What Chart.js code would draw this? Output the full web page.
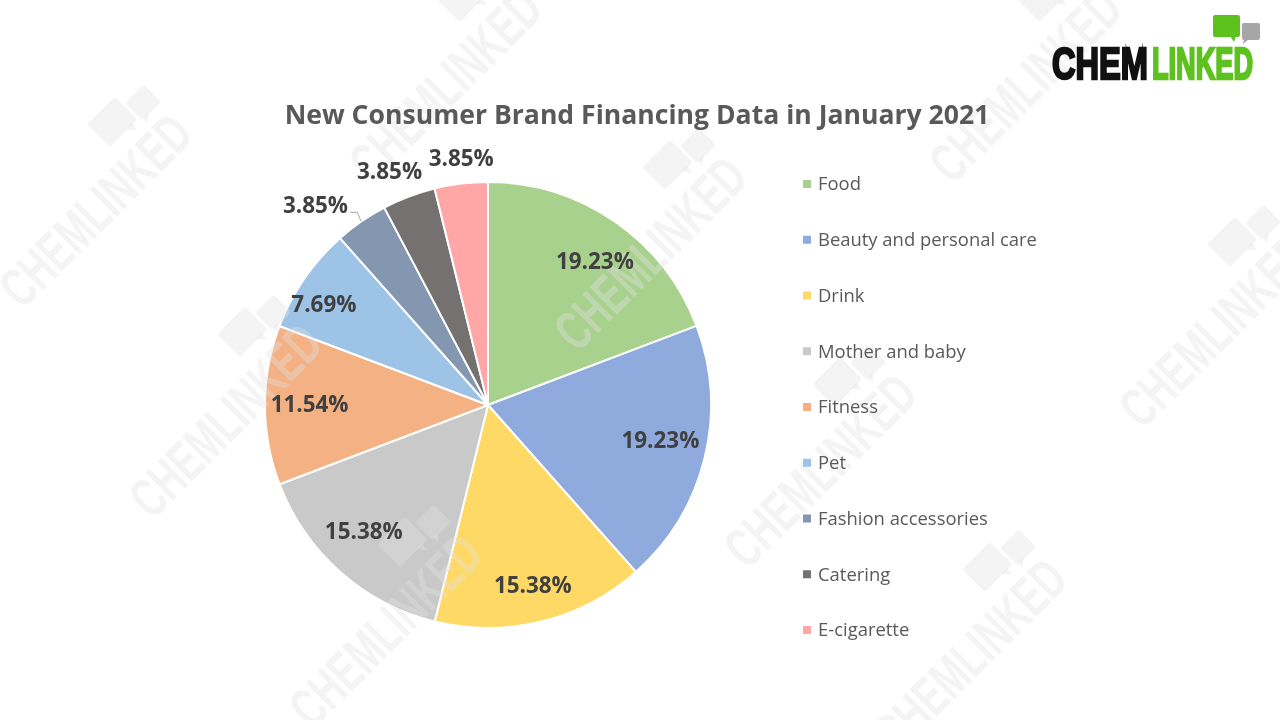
<!DOCTYPE html>
<html><head><meta charset="utf-8">
<script src="https://cdn.jsdelivr.net/npm/chart.js@4/dist/chart.umd.min.js"></script>
<style>html,body{margin:0;padding:0;background:#fff;overflow:hidden}canvas{display:block}</style>
</head><body>
<canvas id="c" width="1280" height="720"></canvas>
<script>
// ---- data ----
const titleText = 'New Consumer Brand Financing Data in January 2021';
const categories = ['Food','Beauty and personal care','Drink','Mother and baby','Fitness','Pet','Fashion accessories','Catering','E-cigarette'];
const shares = [19.23, 19.23, 15.38, 15.38, 11.54, 7.69, 3.85, 3.85, 3.85];
const sliceColors = ['#A9D18E','#8FAADC','#FFD966','#C9C9C9','#F4B183','#9DC3E6','#8497B0','#767171','#FFA7A7'];
// label placement (fraction of radius, angular shift in degrees)
const labelRadius = [0.80, 0.79, 0.84, 0.80, 0.80, 0.86, 1.18, 1.13, 1.107];
const labelShift = [2.2, -2, 0, 2.6, 0, -3.4, -6.3, -2.2, 0.7];
const leaderLine = [false,false,false,false,false,false,true,false,false];

const FONT = '"Open Sans", "DejaVu Sans", sans-serif';
const NARROW = '"Liberation Sans Narrow", "Liberation Sans", sans-serif';

function fitSize(ctx, text, weight, targetW) {
  ctx.font = weight + ' 100px ' + FONT;
  return 100 * targetW / ctx.measureText(text).width;
}

function drawBubbles(ctx, x, y, s, c1, c2) {
  ctx.fillStyle = c1;
  ctx.beginPath();
  ctx.roundRect(x, y, 27*s, 22*s, 2*s);
  ctx.fill();
  ctx.beginPath();
  ctx.moveTo(x + 17*s, y + 21*s); ctx.lineTo(x + 21*s, y + 27*s); ctx.lineTo(x + 23*s, y + 21*s);
  ctx.fill();
  ctx.fillStyle = c2;
  ctx.beginPath();
  ctx.roundRect(x + 29*s, y + 8*s, 18*s, 17*s, 2*s);
  ctx.fill();
  ctx.beginPath();
  ctx.moveTo(x + 31*s, y + 24*s); ctx.lineTo(x + 30*s, y + 29*s); ctx.lineTo(x + 36*s, y + 24*s);
  ctx.fill();
}

const watermarkSpots = [[445,85],[1025,85],[95,210],[650,253],[1215,330],[225,420],[820,470],[385,630],[970,655]];

const decoPlugin = {
  id: 'deco',
  afterDatasetsDraw(chart) {
    const ctx = chart.ctx;
    ctx.save();
    const col = 'rgba(225,225,225,0.38)';
    for (const [x, y] of watermarkSpots) {
      ctx.save();
      ctx.translate(x, y);
      ctx.rotate(-45 * Math.PI / 180);
      ctx.font = 'bold 56px ' + NARROW;
      const w = ctx.measureText('CHEMLINKED').width;
      ctx.save();
      ctx.scale(245 / w, 1);
      ctx.fillStyle = col;
      ctx.textAlign = 'left';
      ctx.textBaseline = 'alphabetic';
      ctx.fillText('CHEMLINKED', -w / 2, 20);
      ctx.restore();
      drawBubbles(ctx, 55, -66, 1.45, col, col);
      ctx.restore();
    }
    ctx.restore();
  },
  afterDraw(chart) {
    const ctx = chart.ctx;
    ctx.save();
    // title
    const ts = fitSize(ctx, titleText, 'bold', 705);
    ctx.font = 'bold ' + ts + 'px ' + FONT;
    ctx.fillStyle = '#595959';
    ctx.textAlign = 'center';
    ctx.textBaseline = 'middle';
    ctx.fillText(titleText, 637, 116);

    // data labels
    const meta = chart.getDatasetMeta(0);
    const ls = fitSize(ctx, '19.23%', 'bold', 78);
    ctx.font = 'bold ' + ls + 'px ' + FONT;
    ctx.fillStyle = '#404040';
    meta.data.forEach((arc, i) => {
      const p = arc.getProps(['x','y','startAngle','endAngle','outerRadius'], true);
      const a = (p.startAngle + p.endAngle) / 2 + labelShift[i] * Math.PI / 180;
      const r = p.outerRadius * labelRadius[i];
      const lx = p.x + Math.cos(a) * r, ly = p.y + Math.sin(a) * r;
      const txt = shares[i].toFixed(2) + '%';
      ctx.fillText(txt, lx, ly);
      if (leaderLine[i]) {
        const mid = (p.startAngle + p.endAngle) / 2;
        const ex = p.x + Math.cos(mid) * p.outerRadius, ey = p.y + Math.sin(mid) * p.outerRadius;
        const tw = ctx.measureText(txt).width;
        ctx.strokeStyle = '#A6A6A6';
        ctx.lineWidth = 1;
        ctx.beginPath();
        ctx.moveTo(lx + tw / 2 + 2, ly + 6);
        ctx.lineTo(ex - 4, ly + 6);
        ctx.lineTo(ex, ey);
        ctx.stroke();
      }
    });

    // legend
    const gs = fitSize(ctx, 'Beauty and personal care', 'normal', 219);
    ctx.font = gs + 'px ' + FONT;
    ctx.textAlign = 'left';
    ctx.textBaseline = 'middle';
    categories.forEach((c, i) => {
      const y = 184 + i * 55.75;
      ctx.fillStyle = sliceColors[i];
      ctx.fillRect(803, y - 4, 8, 8);
      ctx.fillStyle = '#595959';
      ctx.fillText(c, 818, y + 1);
    });

    // logo
    ctx.font = 'bold 45px ' + NARROW;
    ctx.textBaseline = 'alphabetic';
    const w1 = ctx.measureText('CHEM').width;
    const w2 = ctx.measureText('LINKED').width;
    ctx.save();
    ctx.translate(1052, 79);
    ctx.scale(96 / w1, 1);
    ctx.fillStyle = '#111111';
    ctx.strokeStyle = '#111111';
    ctx.lineWidth = 2.5;
    ctx.fillText('CHEM', 0, 0);
    ctx.strokeText('CHEM', 0, 0);
    ctx.restore();
    ctx.save();
    ctx.translate(1152, 79);
    ctx.scale(101 / w2, 1);
    ctx.fillStyle = '#5DC21E';
    ctx.strokeStyle = '#5DC21E';
    ctx.lineWidth = 2.5;
    ctx.fillText('LINKED', 0, 0);
    ctx.strokeText('LINKED', 0, 0);
    ctx.restore();
    drawBubbles(ctx, 1213, 15, 1, '#5DC21E', '#A6A6A6');
    ctx.restore();
  }
};

new Chart(document.getElementById('c'), {
  type: 'pie',
  data: {
    labels: categories,
    datasets: [{
      data: shares,
      backgroundColor: sliceColors,
      borderColor: '#FFFFFF',
      borderWidth: 2
    }]
  },
  options: {
    responsive: false,
    animation: false,
    layout: { padding: { left: 264, right: 568, top: 181, bottom: 91 } },
    plugins: {
      legend: { display: false },
      title: { display: false },
      tooltip: { enabled: false }
    }
  },
  plugins: [decoPlugin]
});
</script>
</body></html>
